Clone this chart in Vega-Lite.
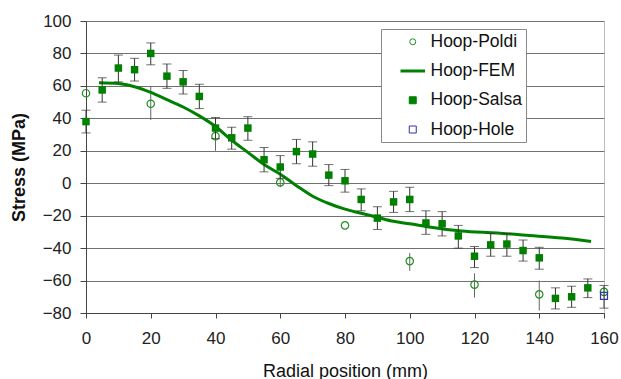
{
  "$schema": "https://vega.github.io/schema/vega-lite/v6.json",
  "width": 518,
  "height": 292,
  "autosize": {"type": "none"},
  "padding": {"left": 86, "top": 21, "right": 17, "bottom": 66},
  "background": "white",
  "config": {
    "font": "Liberation Sans",
    "view": {"stroke": "#bdbdbd", "strokeWidth": 1},
    "axis": {"labelColor": "#222", "titleColor": "#111", "domainColor": "#444", "tickColor": "#444", "labelFont": "Liberation Sans", "titleFont": "Liberation Sans"}
  },
  "data": {
    "values": [
      {"series": "Hoop-Salsa", "x": 0, "y": 38, "lo": 31, "hi": 45},
      {"series": "Hoop-Salsa", "x": 5, "y": 57.5, "lo": 50, "hi": 65},
      {"series": "Hoop-Salsa", "x": 10, "y": 71, "lo": 62.5, "hi": 79},
      {"series": "Hoop-Salsa", "x": 15, "y": 70, "lo": 63, "hi": 77},
      {"series": "Hoop-Salsa", "x": 20, "y": 80, "lo": 73, "hi": 86.5},
      {"series": "Hoop-Salsa", "x": 25, "y": 66, "lo": 58.5, "hi": 73.5},
      {"series": "Hoop-Salsa", "x": 30, "y": 62.5, "lo": 55, "hi": 69.5},
      {"series": "Hoop-Salsa", "x": 35, "y": 53.5, "lo": 46, "hi": 61},
      {"series": "Hoop-Salsa", "x": 40, "y": 34, "lo": 27.5, "hi": 40.5},
      {"series": "Hoop-Salsa", "x": 45, "y": 28, "lo": 21, "hi": 34.5},
      {"series": "Hoop-Salsa", "x": 50, "y": 34, "lo": 26.5, "hi": 41},
      {"series": "Hoop-Salsa", "x": 55, "y": 14.5, "lo": 7, "hi": 22},
      {"series": "Hoop-Salsa", "x": 60, "y": 10, "lo": 3, "hi": 17},
      {"series": "Hoop-Salsa", "x": 65, "y": 19.5, "lo": 12, "hi": 27},
      {"series": "Hoop-Salsa", "x": 70, "y": 18, "lo": 10.5, "hi": 25.5},
      {"series": "Hoop-Salsa", "x": 75, "y": 5, "lo": -1.5, "hi": 11.5},
      {"series": "Hoop-Salsa", "x": 80, "y": 1.5, "lo": -5.5, "hi": 8.5},
      {"series": "Hoop-Salsa", "x": 85, "y": -10, "lo": -17, "hi": -3.5},
      {"series": "Hoop-Salsa", "x": 90, "y": -21.5, "lo": -28.5, "hi": -14.5},
      {"series": "Hoop-Salsa", "x": 95, "y": -11.5, "lo": -18, "hi": -5},
      {"series": "Hoop-Salsa", "x": 100, "y": -10, "lo": -17.5, "hi": -2.5},
      {"series": "Hoop-Salsa", "x": 105, "y": -24.5, "lo": -31.5, "hi": -17},
      {"series": "Hoop-Salsa", "x": 110, "y": -25, "lo": -32.5, "hi": -17.5},
      {"series": "Hoop-Salsa", "x": 115, "y": -32.5, "lo": -40, "hi": -26},
      {"series": "Hoop-Salsa", "x": 120, "y": -45, "lo": -52, "hi": -39},
      {"series": "Hoop-Salsa", "x": 125, "y": -38, "lo": -45, "hi": -31},
      {"series": "Hoop-Salsa", "x": 130, "y": -37.5, "lo": -45, "hi": -31},
      {"series": "Hoop-Salsa", "x": 135, "y": -41.5, "lo": -48, "hi": -35},
      {"series": "Hoop-Salsa", "x": 140, "y": -46, "lo": -53, "hi": -39.5},
      {"series": "Hoop-Salsa", "x": 145, "y": -71, "lo": -77.5, "hi": -64.5},
      {"series": "Hoop-Salsa", "x": 150, "y": -70, "lo": -76.5, "hi": -63.5},
      {"series": "Hoop-Salsa", "x": 155, "y": -64.5, "lo": -70.5, "hi": -59},
      {"series": "Hoop-Poldi", "x": 0, "y": 55.5},
      {"series": "Hoop-Poldi", "x": 20, "y": 49, "lo": 39, "hi": 60},
      {"series": "Hoop-Poldi", "x": 40, "y": 29, "lo": 20, "hi": 36},
      {"series": "Hoop-Poldi", "x": 60, "y": 0.5, "lo": -2.5, "hi": 4.5},
      {"series": "Hoop-Poldi", "x": 80, "y": -26},
      {"series": "Hoop-Poldi", "x": 100, "y": -48, "lo": -54, "hi": -43},
      {"series": "Hoop-Poldi", "x": 120, "y": -62.5, "lo": -70.5, "hi": -55.5},
      {"series": "Hoop-Poldi", "x": 140, "y": -68.5, "lo": -78.5, "hi": -60},
      {"series": "Hoop-Poldi", "x": 160, "y": -67},
      {"series": "Hoop-Hole", "x": 160, "y": -69.5, "lo": -77, "hi": -63},
      {"series": "Hoop-FEM", "x": 4, "y": 62},
      {"series": "Hoop-FEM", "x": 10, "y": 61.5},
      {"series": "Hoop-FEM", "x": 15, "y": 59.5},
      {"series": "Hoop-FEM", "x": 20, "y": 56},
      {"series": "Hoop-FEM", "x": 25, "y": 51.5},
      {"series": "Hoop-FEM", "x": 30, "y": 47},
      {"series": "Hoop-FEM", "x": 35, "y": 41.5},
      {"series": "Hoop-FEM", "x": 40, "y": 35},
      {"series": "Hoop-FEM", "x": 45, "y": 26.5},
      {"series": "Hoop-FEM", "x": 50, "y": 19},
      {"series": "Hoop-FEM", "x": 55, "y": 11.5},
      {"series": "Hoop-FEM", "x": 60, "y": 5.5},
      {"series": "Hoop-FEM", "x": 65, "y": -1.5},
      {"series": "Hoop-FEM", "x": 70, "y": -8},
      {"series": "Hoop-FEM", "x": 75, "y": -12.5},
      {"series": "Hoop-FEM", "x": 80, "y": -16},
      {"series": "Hoop-FEM", "x": 85, "y": -18.5},
      {"series": "Hoop-FEM", "x": 90, "y": -21},
      {"series": "Hoop-FEM", "x": 95, "y": -23.5},
      {"series": "Hoop-FEM", "x": 100, "y": -25},
      {"series": "Hoop-FEM", "x": 106, "y": -27},
      {"series": "Hoop-FEM", "x": 116, "y": -29.5},
      {"series": "Hoop-FEM", "x": 127, "y": -30.7},
      {"series": "Hoop-FEM", "x": 137, "y": -32.2},
      {"series": "Hoop-FEM", "x": 147, "y": -33.8},
      {"series": "Hoop-FEM", "x": 156, "y": -35.9}
    ]
  },
  "encoding": {
    "x": {
      "field": "x", "type": "quantitative",
      "scale": {"domain": [0, 160], "nice": false, "zero": false},
      "axis": {"values": [0, 20, 40, 60, 80, 100, 120, 140, 160], "grid": false, "tickSize": 5, "labelFlush": false, "labelFontSize": 17, "labelPadding": 12, "title": "Radial position (mm)", "titleFontSize": 18, "titleFontWeight": "normal", "titlePadding": 16}
    },
    "y": {
      "field": "y", "type": "quantitative",
      "scale": {"domain": [-80, 100], "nice": false, "zero": false},
      "axis": {"values": [-80, -60, -40, -20, 0, 20, 40, 60, 80, 100], "grid": true, "gridColor": "#707070", "gridOpacity": 1, "tickSize": 6, "labelFlush": false, "labelFontSize": 17, "labelPadding": 9, "title": "Stress (MPa)", "titleFontSize": 18, "titleFontWeight": "bold", "titlePadding": 14}
    }
  },
  "layer": [
    {
      "transform": [{"filter": "datum.series === 'Hoop-Poldi' && isValid(datum.lo)"}],
      "mark": {"type": "rule", "color": "#666", "strokeWidth": 1},
      "encoding": {"y": {"field": "lo", "type": "quantitative"}, "y2": {"field": "hi"}}
    },
    {
      "transform": [{"filter": "datum.series === 'Hoop-Poldi'"}],
      "mark": {"type": "point", "shape": "circle", "filled": false, "size": 55, "strokeWidth": 1.2, "opacity": 1},
      "encoding": {
        "color": {
          "field": "series", "type": "nominal",
          "scale": {"domain": ["Hoop-Poldi", "Hoop-FEM", "Hoop-Salsa", "Hoop-Hole"], "range": ["#1f8f1f", "#008000", "#008000", "#3333aa"]},
          "legend": {
            "orient": "none", "legendX": 295, "legendY": 8, "title": null,
            "fillColor": "white", "strokeColor": "#888", "padding": 4,
            "labelFontSize": 17.5, "labelColor": "#111", "labelFont": "Liberation Sans",
            "rowPadding": 10.25, "symbolOffset": 19, "labelOffset": 9, "symbolSize": 49,
            "encoding": {"symbols": {
              "shape": {"value": {"expr": "datum.value === 'Hoop-FEM' ? 'stroke' : datum.value === 'Hoop-Poldi' ? 'circle' : 'square'"}},
              "size": {"value": {"expr": "datum.value === 'Hoop-FEM' ? 600 : datum.value === 'Hoop-Poldi' ? 36 : 49"}},
              "fill": {"value": {"expr": "datum.value === 'Hoop-Salsa' ? '#008000' : 'white'"}},
              "fillOpacity": {"value": {"expr": "datum.value === 'Hoop-Salsa' ? 1 : 0"}},
              "stroke": {"value": {"expr": "datum.value === 'Hoop-Hole' ? '#3333aa' : '#008000'"}},
              "strokeWidth": {"value": {"expr": "datum.value === 'Hoop-FEM' ? 3 : 1"}},
              "strokeOpacity": {"value": 1},
              "opacity": {"value": 1}
            }}
          }
        }
      }
    },
    {
      "transform": [{"filter": "datum.series === 'Hoop-FEM'"}],
      "mark": {"type": "line", "strokeWidth": 3, "interpolate": "monotone"},
      "encoding": {"color": {"field": "series", "type": "nominal"}}
    },
    {
      "transform": [{"filter": "(datum.series === 'Hoop-Salsa' || datum.series === 'Hoop-Hole') && isValid(datum.lo)"}],
      "mark": {"type": "rule", "color": "#333", "strokeWidth": 1},
      "encoding": {"y": {"field": "lo", "type": "quantitative"}, "y2": {"field": "hi"}}
    },
    {
      "transform": [{"filter": "(datum.series === 'Hoop-Salsa' || datum.series === 'Hoop-Hole') && isValid(datum.lo)"}],
      "mark": {"type": "tick", "orient": "horizontal", "color": "#333", "size": 9, "thickness": 1},
      "encoding": {"y": {"field": "lo", "type": "quantitative"}}
    },
    {
      "transform": [{"filter": "(datum.series === 'Hoop-Salsa' || datum.series === 'Hoop-Hole') && isValid(datum.hi)"}],
      "mark": {"type": "tick", "orient": "horizontal", "color": "#333", "size": 9, "thickness": 1},
      "encoding": {"y": {"field": "hi", "type": "quantitative"}}
    },
    {
      "transform": [{"filter": "datum.series === 'Hoop-Salsa'"}],
      "mark": {"type": "square", "filled": true, "size": 56, "opacity": 1},
      "encoding": {"color": {"field": "series", "type": "nominal"}}
    },
    {
      "transform": [{"filter": "datum.series === 'Hoop-Hole'"}],
      "mark": {"type": "point", "shape": "square", "filled": false, "size": 49, "strokeWidth": 1.2, "opacity": 1},
      "encoding": {"color": {"field": "series", "type": "nominal"}}
    }
  ]
}
